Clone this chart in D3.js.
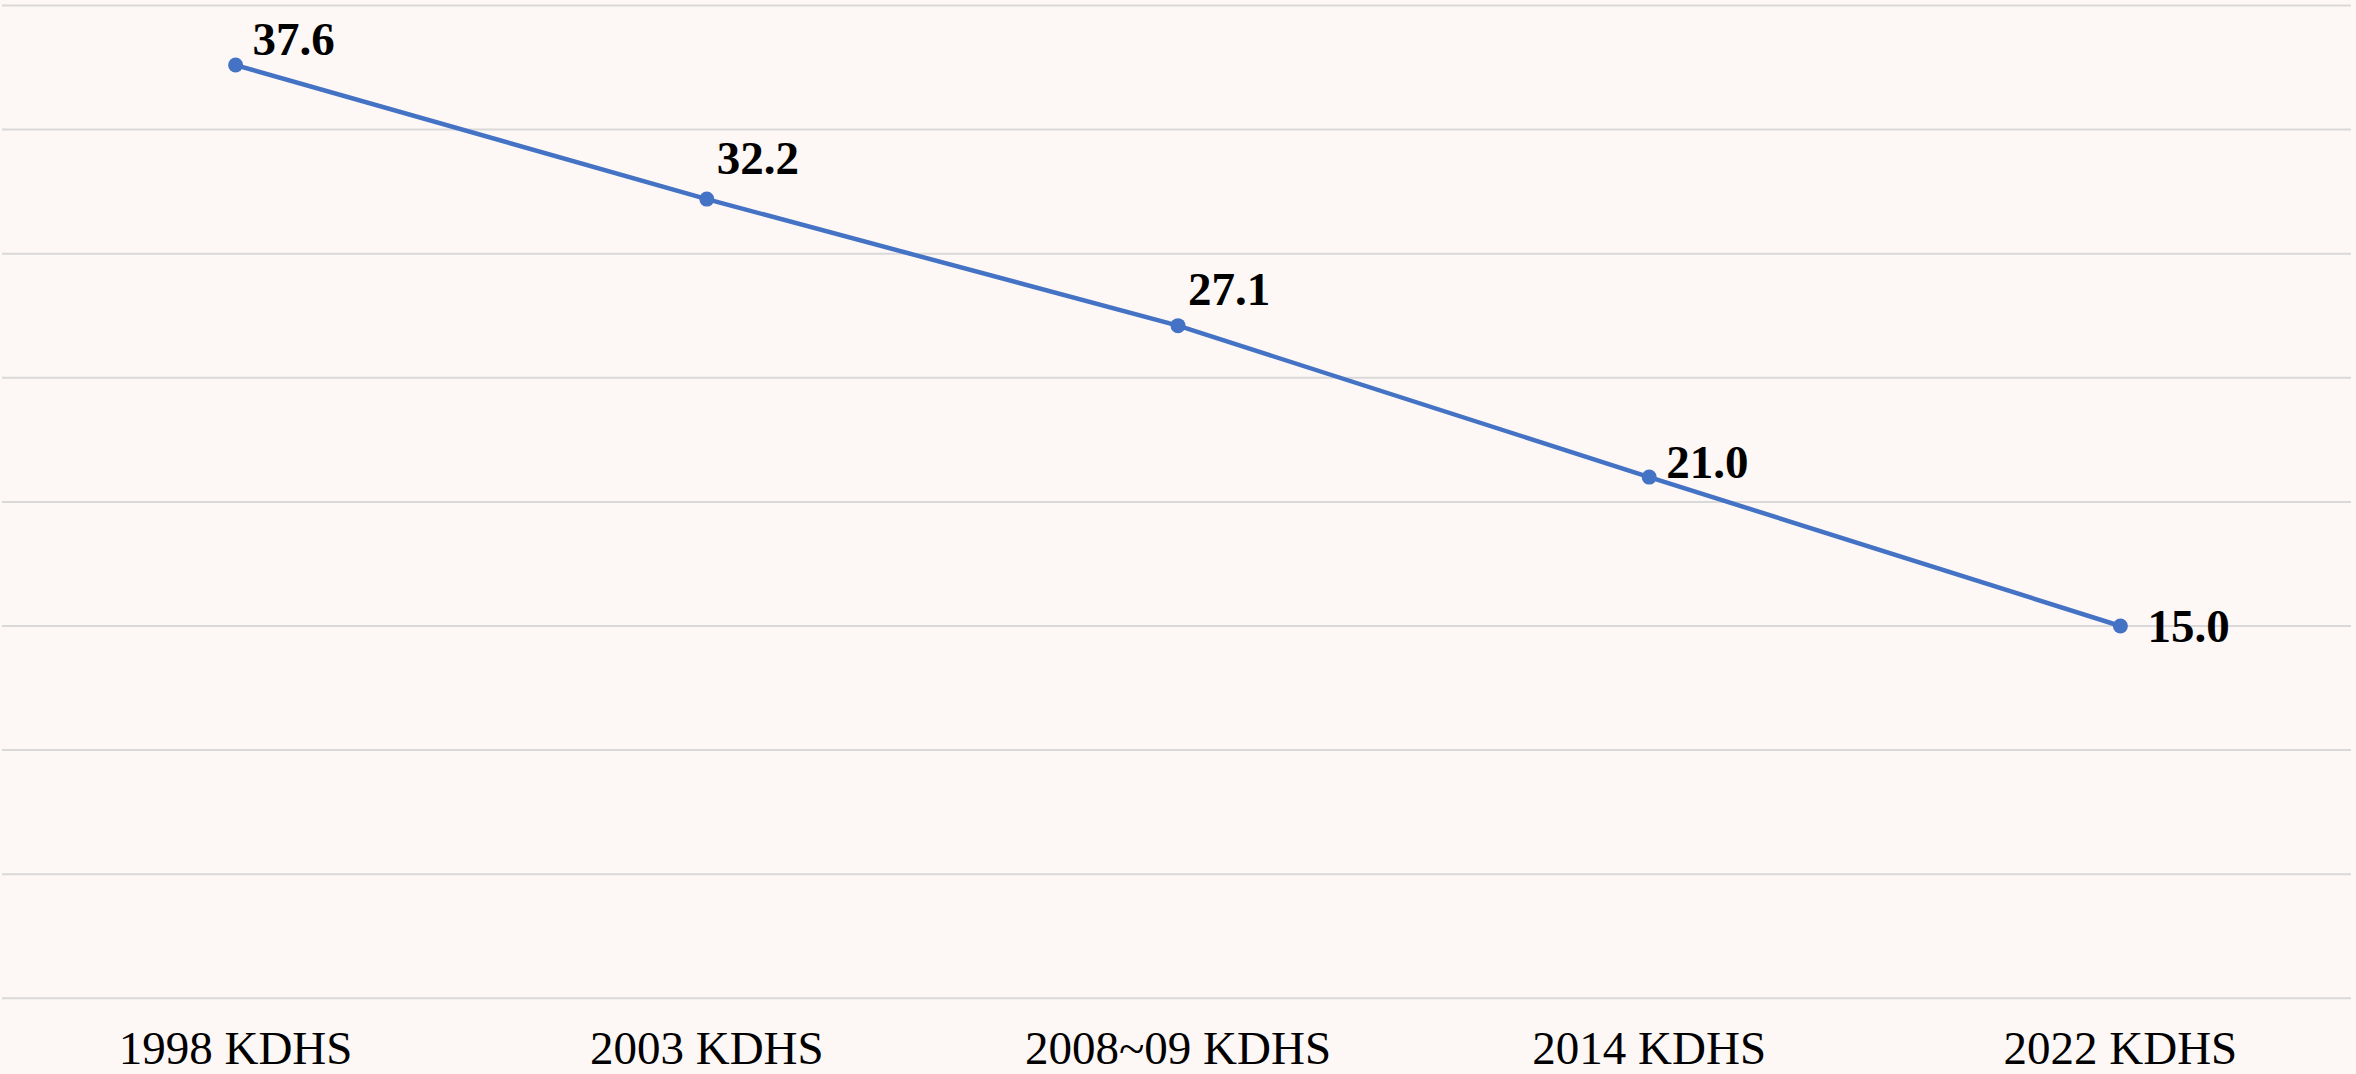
<!DOCTYPE html>
<html>
<head>
    <meta charset="utf-8">
    <title>KDHS line chart</title>
    <script src="https://cdn.jsdelivr.net/npm/d3@7"></script>
    <style>
        html, body { margin: 0; padding: 0; background: #fdf7f5; }
        svg { display: block; }
    </style>
</head>
<body>
<script>
    // data
    var categories = ['1998 KDHS', '2003 KDHS', '2008~09 KDHS', '2014 KDHS', '2022 KDHS'];
    var values = [37.6, 32.2, 27.1, 21.0, 15.0];
    var yTicks = [0, 5, 10, 15, 20, 25, 30, 35, 40];

    // label nudges (dx, dy) relative to each point, like the excel layout
    var labelNudge = [[17, -10], [10, -25], [10, -21], [17, 1], [27, 16]];

    var width = 2356, height = 1074;
    var margin = {top: 5.5, bottom: 75.7, left: 2, right: 5};

    var svg = d3.select('body').append('svg')
            .attr('width', width).attr('height', height);

    svg.append('rect').attr('width', width).attr('height', height).attr('fill', '#fdf7f5');

    var x = d3.scaleBand().domain(categories).range([0, width]);
    var y = d3.scaleLinear().domain([0, 40]).range([height - margin.bottom, margin.top]);

    // gridlines
    svg.append('g').selectAll('line').data(yTicks).enter().append('line')
            .attr('x1', margin.left)
            .attr('x2', width - margin.right)
            .attr('y1', function (d) { return y(d); })
            .attr('y2', function (d) { return y(d); })
            .attr('stroke', '#d9d9d9')
            .attr('stroke-width', 2);

    // category axis
    var xAxis = svg.append('g')
            .attr('transform', 'translate(0,' + y(0) + ')')
            .call(d3.axisBottom(x).tickSize(0).tickPadding(0));
    xAxis.select('.domain').remove();
    xAxis.selectAll('text')
            .attr('y', 66)
            .attr('dy', 0)
            .attr('fill', '#000')
            .style('font-family', '"Liberation Serif", "DejaVu Serif", serif')
            .style('font-size', '47px');

    var cx = function (d, i) { return x(categories[i]) + x.bandwidth() / 2; };

    var line = d3.line()
            .x(cx)
            .y(function (d) { return y(d); });

    svg.append('path').datum(values)
            .attr('d', line)
            .attr('fill', 'none')
            .attr('stroke', '#4472c4')
            .attr('stroke-width', 4.5);

    svg.append('g').selectAll('circle').data(values).enter().append('circle')
            .attr('cx', cx)
            .attr('cy', function (d) { return y(d); })
            .attr('r', 7.5)
            .attr('fill', '#4472c4');

    svg.append('g').selectAll('text').data(values).enter().append('text')
            .attr('x', function (d, i) { return cx(d, i) + labelNudge[i][0]; })
            .attr('y', function (d) { return y(d); })
            .attr('dy', function (d, i) { return labelNudge[i][1]; })
            .attr('fill', '#000')
            .style('font-family', '"Liberation Serif", "DejaVu Serif", serif')
            .style('font-weight', 'bold')
            .style('font-size', '47px')
            .text(function (d) { return d.toFixed(1); });
</script>
</body>
</html>
